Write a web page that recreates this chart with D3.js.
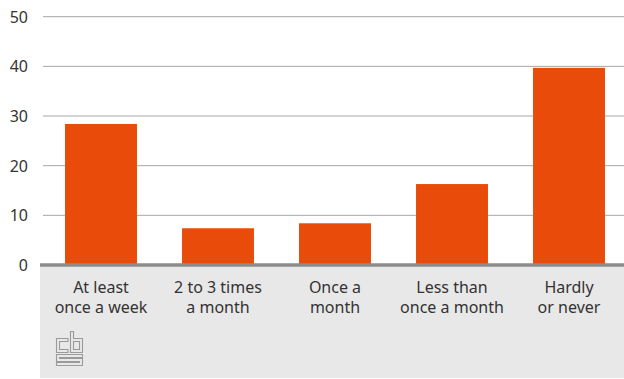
<!DOCTYPE html>
<html><head><meta charset="utf-8">
<script src="https://cdn.jsdelivr.net/npm/d3@7"></script>
<style>body{margin:0;background:#fff}svg{display:block}</style>
</head><body>
<script>
const categories = [["At least","once a week"],["2 to 3 times","a month"],["Once a","month"],["Less than","once a month"],["Hardly","or never"]];
const values = [28.4, 7.4, 8.4, 16.3, 39.7];
const yTicks = [0, 10, 20, 30, 40, 50];

const W = 624, H = 379;
const svg = d3.select("body").append("svg").attr("width", W).attr("height", H);
const font = "'Noto Sans', sans-serif";

const x = d3.scaleBand().domain(d3.range(values.length)).range([42.5, 627.5]).paddingInner(0.385).paddingOuter(0.1925);
const y = d3.scaleLinear().domain([0, 50]).range([265, 16.7]);

// grey category area
svg.append("rect").attr("x", 40).attr("y", 265).attr("width", W - 40).attr("height", 113).attr("fill", "#e8e8e8");

// gridlines
svg.append("g").selectAll("line").data(yTicks.filter(d => d > 0)).join("line")
  .attr("x1", 43).attr("x2", W).attr("y1", d => y(d)).attr("y2", d => y(d))
  .attr("stroke", "#a6a6a6").attr("stroke-width", 1);

// y labels
svg.append("g").selectAll("text").data(yTicks).join("text")
  .attr("x", 28).attr("y", d => y(d)).attr("dy", "0.38em").attr("text-anchor", "end")
  .attr("font-family", font).attr("font-size", 16).attr("fill", "#333").text(d => d);

// bars
svg.append("g").selectAll("rect").data(values).join("rect")
  .attr("x", (d, i) => x(i)).attr("width", x.bandwidth())
  .attr("y", d => y(d)).attr("height", d => y(0) - y(d))
  .attr("fill", "#e94c0a");

// baseline
svg.append("line").attr("x1", 40).attr("x2", W).attr("y1", y(0)).attr("y2", y(0))
  .attr("stroke", "#8c8c8c").attr("stroke-width", 3.5);

// category labels
const lab = svg.append("g").selectAll("text").data(categories).join("text")
  .attr("text-anchor", "middle").attr("font-family", font).attr("font-size", 16).attr("fill", "#333");
lab.selectAll("tspan").data((d, i) => d.map(s => ({s, i}))).join("tspan")
  .attr("x", d => x(d.i) + x.bandwidth() / 2)
  .attr("y", (d, j) => 293 + j * 20)
  .text(d => d.s);

// cbs logo
const logo = svg.append("g").attr("fill", "none").attr("stroke", "#9a9a9a").attr("stroke-width", 1.1);
logo.append("path").attr("d", "M68,338.5H56.5V352.5H68V349.5H59.5V341.5H68Z");
logo.append("path").attr("d", "M70.5,331.5H73.5V338.5H82.5V352.5H70.5Z");
logo.append("rect").attr("x", 73.5).attr("y", 341.5).attr("width", 6).attr("height", 8);
logo.append("path").attr("d", "M56.5,354.5H82.5V357.5H59.5V358.5H82.5V365.5H56.5V362.5H79.5V361.5H56.5Z");
</script>
</body></html>
